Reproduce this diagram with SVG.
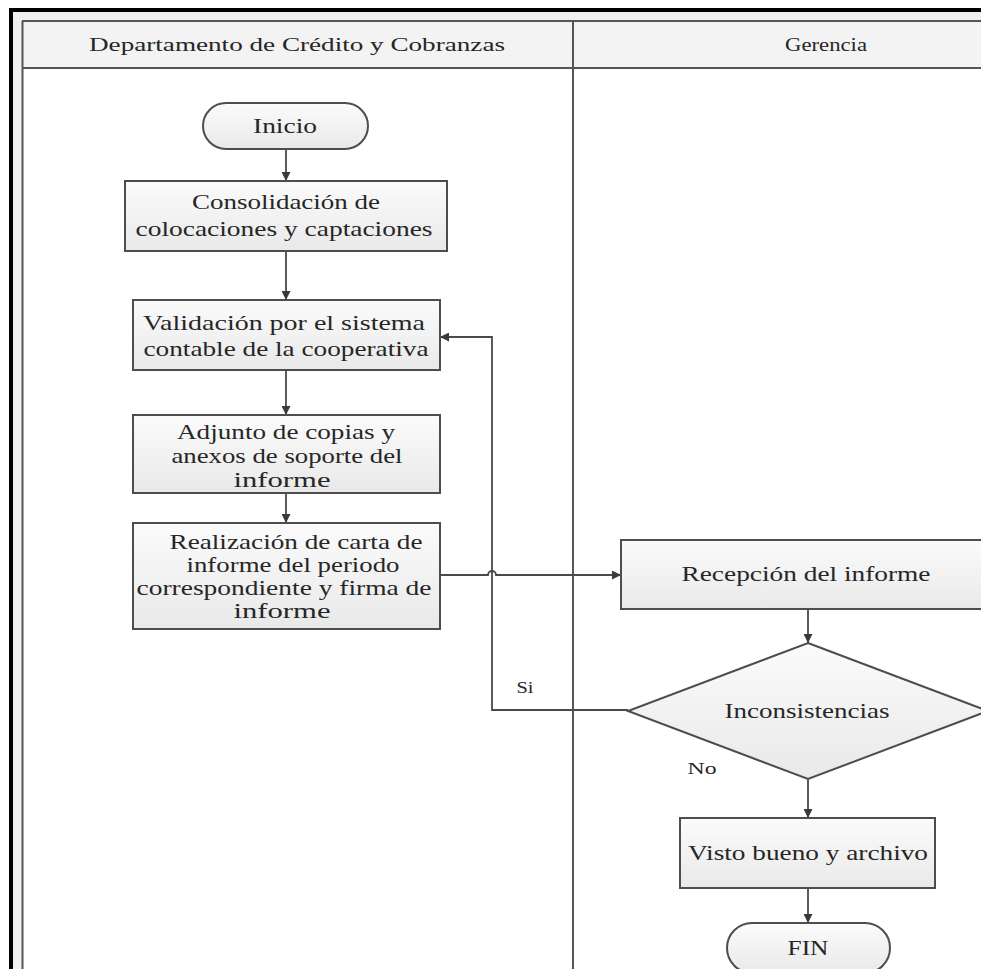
<svg xmlns="http://www.w3.org/2000/svg" width="981" height="969" viewBox="0 0 981 969">
<defs>
<linearGradient id="gf" x1="0" y1="0" x2="0" y2="1">
<stop offset="0" stop-color="#fbfbfb"/>
<stop offset="1" stop-color="#e9e9e9"/>
</linearGradient>
<marker id="ah" viewBox="0 0 10 10" refX="10" refY="5" markerWidth="9" markerHeight="9" markerUnits="userSpaceOnUse" orient="auto">
<path d="M0,0 L10,5 L0,10 z" fill="#3a3a3a"/>
</marker>
<style>
.box{fill:url(#gf);stroke:#4d4d4d;stroke-width:2}
.t{font-family:"Liberation Serif","Times New Roman",serif;font-size:22px;fill:#262626;text-anchor:middle}
.h{font-family:"Liberation Serif","Times New Roman",serif;font-size:18px;fill:#262626;text-anchor:middle}
.l{font-family:"Liberation Serif","Times New Roman",serif;font-size:16px;fill:#262626;text-anchor:middle}
.c{fill:none;stroke:#4a4a4a;stroke-width:1.8}
.lane{stroke:#555;stroke-width:2;fill:none}
</style>
</defs>
<rect x="0" y="0" width="981" height="969" fill="#ffffff"/>
<g id="pool">
<rect x="12" y="12" width="969" height="957" fill="#f0f0f0"/>
<rect x="22" y="21" width="959" height="47" fill="#f3f3f3"/>
<rect x="23" y="69" width="958" height="900" fill="#ffffff"/>
<line class="lane" x1="22" y1="21" x2="981" y2="21" stroke="#6a6a6a"/>
<line class="lane" x1="22" y1="68" x2="981" y2="68"/>
<line class="lane" x1="22.5" y1="21" x2="22.5" y2="969" stroke="#6a6a6a"/>
<line class="lane" x1="573" y1="21" x2="573" y2="969" stroke="#444"/>
<rect x="9" y="8" width="972" height="4" fill="#000"/>
<rect x="9" y="8" width="4" height="961" fill="#000"/>
<text class="h" x="297" y="51" textLength="416" lengthAdjust="spacingAndGlyphs">Departamento de Crédito y Cobranzas</text>
<text class="h" x="826" y="51" textLength="82" lengthAdjust="spacingAndGlyphs">Gerencia</text>
</g>
<g id="connectors">
<line class="c" x1="286" y1="148" x2="286" y2="181" marker-end="url(#ah)"/>
<line class="c" x1="286" y1="251" x2="286" y2="300" marker-end="url(#ah)"/>
<line class="c" x1="286" y1="370" x2="286" y2="415" marker-end="url(#ah)"/>
<line class="c" x1="286" y1="493" x2="286" y2="523" marker-end="url(#ah)"/>
<path class="c" d="M440,575 H488 A4,4 0 0 1 496,575 H621" marker-end="url(#ah)"/>
<path class="c" d="M628,710 H492 V337 H440" marker-end="url(#ah)"/>
<line class="c" x1="808" y1="609" x2="808" y2="643" marker-end="url(#ah)"/>
<line class="c" x1="808" y1="779" x2="808" y2="818" marker-end="url(#ah)"/>
<line class="c" x1="808" y1="888" x2="808" y2="923" marker-end="url(#ah)"/>
<text class="l" x="525" y="693" textLength="17" lengthAdjust="spacingAndGlyphs">Si</text>
<text class="l" x="702" y="774" textLength="29" lengthAdjust="spacingAndGlyphs">No</text>
</g>
<g id="inicio">
<rect class="box" x="203" y="103" width="165" height="46" rx="23" ry="23"/>
<text class="t" x="285" y="133" textLength="64" lengthAdjust="spacingAndGlyphs">Inicio</text>
</g>
<g id="consolidacion">
<rect class="box" x="125" y="181" width="322" height="70"/>
<text class="t" x="286" y="209" textLength="188" lengthAdjust="spacingAndGlyphs">Consolidación de</text>
<text class="t" x="284" y="236" textLength="297" lengthAdjust="spacingAndGlyphs">colocaciones y captaciones</text>
</g>
<g id="validacion">
<rect class="box" x="133" y="300" width="307" height="70"/>
<text class="t" x="284" y="330" textLength="282" lengthAdjust="spacingAndGlyphs">Validación por el sistema</text>
<text class="t" x="286" y="356" textLength="285" lengthAdjust="spacingAndGlyphs">contable de la cooperativa</text>
</g>
<g id="adjunto">
<rect class="box" x="133" y="415" width="307" height="78"/>
<text class="t" x="286" y="439" textLength="218" lengthAdjust="spacingAndGlyphs">Adjunto de copias y</text>
<text class="t" x="287" y="463" textLength="231" lengthAdjust="spacingAndGlyphs">anexos de soporte del</text>
<text class="t" x="282" y="487" textLength="97" lengthAdjust="spacingAndGlyphs">informe</text>
</g>
<g id="realizacion">
<rect class="box" x="133" y="523" width="307" height="106"/>
<text class="t" x="296" y="549" textLength="253" lengthAdjust="spacingAndGlyphs">Realización de carta de</text>
<text class="t" x="293" y="572" textLength="213" lengthAdjust="spacingAndGlyphs">informe del periodo</text>
<text class="t" x="284" y="595" textLength="295" lengthAdjust="spacingAndGlyphs">correspondiente y firma de</text>
<text class="t" x="282" y="618" textLength="97" lengthAdjust="spacingAndGlyphs">informe</text>
</g>
<g id="recepcion">
<rect class="box" x="621" y="540" width="380" height="69"/>
<text class="t" x="806" y="581" textLength="249" lengthAdjust="spacingAndGlyphs">Recepción del informe</text>
</g>
<g id="inconsistencias">
<polygon class="box" points="808,643 988,711 808,779 628,711"/>
<text class="t" x="807" y="718" textLength="165" lengthAdjust="spacingAndGlyphs">Inconsistencias</text>
</g>
<g id="visto">
<rect class="box" x="680" y="818" width="255" height="70"/>
<text class="t" x="808" y="860" textLength="240" lengthAdjust="spacingAndGlyphs">Visto bueno y archivo</text>
</g>
<g id="fin">
<rect class="box" x="727" y="923" width="163" height="50" rx="25" ry="25"/>
<text class="t" x="808" y="955" textLength="41" lengthAdjust="spacingAndGlyphs">FIN</text>
</g>
</svg>
